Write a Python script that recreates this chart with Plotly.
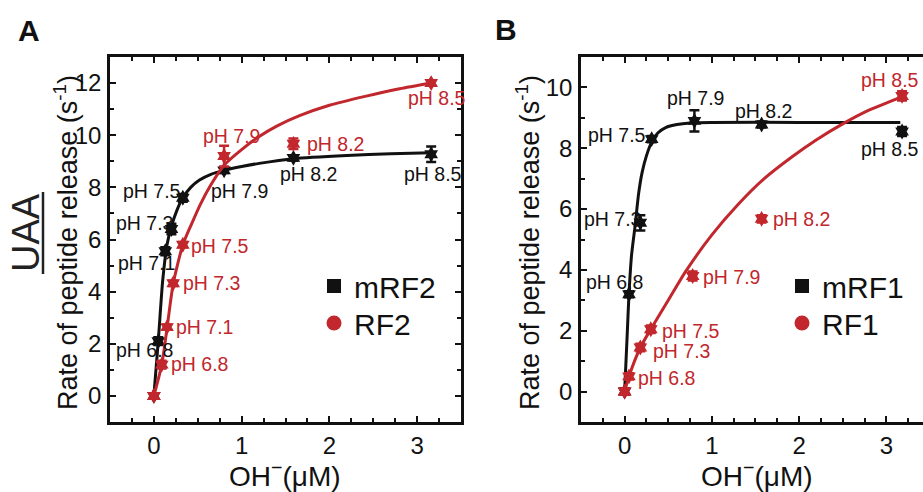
import plotly.graph_objects as go

BLACK = "#111111"
RED = "#c1272d"
FONT = "Liberation Sans, Arial, Helvetica, sans-serif"

# ---------------- Panel A data ----------------
a_mrf2_x = [0, 0.05, 0.13, 0.20, 0.33, 0.80, 1.59, 3.16]
a_mrf2_y = [0, 2.1, 5.55, 6.4, 7.6, 8.65, 9.13, 9.27]
a_mrf2_err = [0.1, 0.15, 0.15, 0.2, 0.15, 0.1, 0.1, 0.3]
a_mrf2_fit_x = [0, 0.05, 0.1, 0.15, 0.2, 0.26, 0.33, 0.42, 0.52, 0.65, 0.8, 1.0, 1.2, 1.6, 2.2, 2.7, 3.16]
a_mrf2_fit_y = [0, 2.1, 4.4, 5.8, 6.5, 7.1, 7.6, 8.0, 8.28, 8.5, 8.65, 8.8, 8.92, 9.1, 9.22, 9.29, 9.33]
a_mrf2_labels = ["pH 6.8", "pH 7.1", "pH 7.3", "pH 7.5", "pH 7.9", "pH 8.2", "pH 8.5"]

a_rf2_x = [0, 0.09, 0.15, 0.22, 0.33, 0.80, 1.59, 3.16]
a_rf2_y = [0, 1.2, 2.64, 4.32, 5.8, 9.2, 9.67, 12.0]
a_rf2_err = [0.1, 0.15, 0.1, 0.1, 0.1, 0.4, 0.2, 0.1]
a_rf2_fit_x = [0, 0.09, 0.15, 0.22, 0.33, 0.43, 0.53, 0.65, 0.8, 1.0, 1.2, 1.4, 1.66, 2.0, 2.42, 2.8, 3.16]
a_rf2_fit_y = [0, 1.2, 2.6, 4.3, 5.8, 6.6, 7.35, 8.1, 8.85, 9.45, 9.95, 10.35, 10.75, 11.15, 11.5, 11.78, 12.0]
a_rf2_labels = ["pH 6.8", "pH 7.1", "pH 7.3", "pH 7.5", "pH 7.9", "pH 8.2", "pH 8.5"]

# ---------------- Panel B data ----------------
b_mrf1_x = [0, 0.05, 0.18, 0.31, 0.80, 1.57, 3.18]
b_mrf1_y = [0, 3.2, 5.55, 8.3, 8.9, 8.78, 8.55]
b_mrf1_err = [0.1, 0.1, 0.25, 0.1, 0.35, 0.1, 0.15]
b_mrf1_fit_x = [0, 0.03, 0.05, 0.08, 0.12, 0.16, 0.2, 0.25, 0.31, 0.38, 0.47, 0.6, 0.75, 1.0, 2.0, 3.16]
b_mrf1_fit_y = [0, 1.9, 3.2, 4.5, 5.45, 6.5, 7.2, 7.75, 8.2, 8.5, 8.68, 8.78, 8.83, 8.85, 8.85, 8.85]
b_mrf1_labels = ["pH 6.8", "pH 7.3", "pH 7.5", "pH 7.9", "pH 8.2", "pH 8.5"]

b_rf1_x = [0, 0.05, 0.18, 0.30, 0.78, 1.57, 3.18]
b_rf1_y = [0, 0.5, 1.45, 2.05, 3.8, 5.68, 9.72]
b_rf1_err = [0.1, 0.1, 0.12, 0.12, 0.15, 0.12, 0.15]
b_rf1_fit_x = [0, 0.05, 0.18, 0.3, 0.5, 0.7, 1.0, 1.3, 1.6, 1.92, 2.2, 2.5, 2.8, 3.17]
b_rf1_fit_y = [0, 0.5, 1.45, 2.05, 3.0, 3.95, 5.15, 6.15, 7.0, 7.72, 8.28, 8.8, 9.25, 9.68]
b_rf1_labels = ["pH 6.8", "pH 7.3", "pH 7.5", "pH 7.9", "pH 8.2", "pH 8.5"]

# label anchor positions (left edge, vertical middle) in data coordinates
a_mrf2_lab_pos = [(-0.453, 1.76), (-0.43, 5.08), (-0.453, 6.65), (-0.374, 7.87),
                  (0.623, 7.87), (1.416, 8.52), (2.83, 8.52)]
a_rf2_lab_pos = [(0.17, 1.22), (0.226, 2.64), (0.306, 4.32), (0.396, 5.77),
                 (0.532, 9.97), (1.72, 9.67), (2.877, 11.43)]
b_mrf1_lab_pos = [(-0.46, 3.6), (-0.494, 5.68), (-0.448, 8.42), (0.46, 9.64),
                  (1.241, 9.24), (2.69, 7.99)]
b_rf1_lab_pos = [(0.126, 0.46), (0.3, 1.32), (0.41, 1.98), (0.874, 3.78),
                 (1.678, 5.68), (2.69, 10.23)]

W, H = 923, 492


def px(x):
    return x / W


def py(y):
    return (H - y) / H


fig = go.Figure()


def add_series(xs, ys, errs, fx, fy, color, xa, ya):
    fig.add_trace(go.Scatter(x=fx, y=fy, mode="lines", line=dict(color=color, width=3, shape="spline", smoothing=0.6),
                             xaxis=xa, yaxis=ya, showlegend=False, hoverinfo="skip"))
    fig.add_trace(go.Scatter(x=xs, y=ys, mode="markers",
                             marker=dict(symbol="hexagram", size=12, color=color),
                             error_y=dict(type="data", array=errs, color=color, thickness=2.5, width=5),
                             xaxis=xa, yaxis=ya, showlegend=False))


add_series(a_mrf2_x, a_mrf2_y, a_mrf2_err, a_mrf2_fit_x, a_mrf2_fit_y, BLACK, "x", "y")
add_series(a_rf2_x, a_rf2_y, a_rf2_err, a_rf2_fit_x, a_rf2_fit_y, RED, "x", "y")
add_series(b_mrf1_x, b_mrf1_y, b_mrf1_err, b_mrf1_fit_x, b_mrf1_fit_y, BLACK, "x2", "y2")
add_series(b_rf1_x, b_rf1_y, b_rf1_err, b_rf1_fit_x, b_rf1_fit_y, RED, "x2", "y2")

# legend entries (one legend per entry for precise placement)
legend_entries = [("mRF2", "square", 14, BLACK, "legend", "x", "y"),
                  ("RF2", "circle", 15, RED, "legend2", "x", "y"),
                  ("mRF1", "square", 14, BLACK, "legend3", "x2", "y2"),
                  ("RF1", "circle", 15, RED, "legend4", "x2", "y2")]
for name, sym, size, color, lg, xa, ya in legend_entries:
    fig.add_trace(go.Scatter(x=[None], y=[None], mode="markers", name=name, xaxis=xa, yaxis=ya,
                             marker=dict(symbol=sym, size=size, color=color), legend=lg))

annotations = []


def add_labels(labels, pos, color, xr, yr):
    for t, (lx, ly) in zip(labels, pos):
        annotations.append(dict(text=t, x=lx, y=ly, xref=xr, yref=yr, xanchor="left", yanchor="middle",
                                showarrow=False, font=dict(size=19.5, color=color, family=FONT)))


add_labels(a_mrf2_labels, a_mrf2_lab_pos, BLACK, "x", "y")
add_labels(a_rf2_labels, a_rf2_lab_pos, RED, "x", "y")
add_labels(b_mrf1_labels, b_mrf1_lab_pos, BLACK, "x2", "y2")
add_labels(b_rf1_labels, b_rf1_lab_pos, RED, "x2", "y2")

ytitle = "Rate of peptide release (s<sup>-1</sup>)"
xtitle = "OH<sup>\u2212</sup>(\u03bcM)"
for cx in (66, 528):
    annotations.append(dict(text=ytitle, x=px(cx), y=py(243), xref="paper", yref="paper", textangle=-90,
                            showarrow=False, xanchor="center", yanchor="middle",
                            font=dict(size=27, color=BLACK, family=FONT)))
for cx in (285, 757):
    annotations.append(dict(text=xtitle, x=px(cx), y=py(474), xref="paper", yref="paper",
                            showarrow=False, xanchor="center", yanchor="middle",
                            font=dict(size=28, color=BLACK, family=FONT)))
annotations.append(dict(text="<b>A</b>", x=px(29), y=py(30), xref="paper", yref="paper", showarrow=False,
                        xanchor="center", yanchor="middle", font=dict(size=30, color=BLACK, family=FONT)))
annotations.append(dict(text="<b>B</b>", x=px(506), y=py(29), xref="paper", yref="paper", showarrow=False,
                        xanchor="center", yanchor="middle", font=dict(size=30, color=BLACK, family=FONT)))
annotations.append(dict(text="UAA", x=px(26), y=py(233), xref="paper", yref="paper", showarrow=False,
                        textangle=-90, xanchor="center", yanchor="middle",
                        font=dict(size=38, color="#222222", family=FONT)))

shapes = [dict(type="line", xref="paper", yref="paper", x0=px(43), x1=px(43), y0=py(192), y1=py(274),
               line=dict(color="#222222", width=2.5))]

axis_common = dict(showline=True, linecolor=BLACK, linewidth=2.5, ticks="inside", tickcolor=BLACK,
                   tickwidth=2, ticklen=6, showgrid=False, zeroline=False,
                   tickfont=dict(size=24, color=BLACK, family=FONT))

ydom = [py(422), py(57)]


def legend_at(x_left, y_mid):
    return dict(x=px(x_left), y=py(y_mid), xanchor="left", yanchor="middle", bgcolor="rgba(0,0,0,0)",
                font=dict(size=30, color=BLACK, family=FONT), itemwidth=30, tracegroupgap=0)


fig.update_layout(
    width=W, height=H, margin=dict(l=0, r=0, t=0, b=0),
    paper_bgcolor="white", plot_bgcolor="white",
    xaxis=dict(domain=[px(110), px(461)], range=[-0.5, 3.5], tick0=0, dtick=1, mirror="allticks",
               minor=dict(dtick=0.25, ticks="inside", ticklen=4, tickwidth=2, tickcolor=BLACK),
               anchor="y", **axis_common),
    yaxis=dict(domain=ydom, range=[-1, 13], tick0=0, dtick=2, mirror="allticks",
               minor=dict(dtick=1, ticks="inside", ticklen=4, tickwidth=2, tickcolor=BLACK),
               anchor="x", ticklabelstandoff=1, **axis_common),
    xaxis2=dict(domain=[px(581), 1.0], range=[-0.5, 3.42], tick0=0, dtick=1, mirror="allticks",
                minor=dict(dtick=0.25, ticks="inside", ticklen=4, tickwidth=2, tickcolor=BLACK),
                anchor="y2", **axis_common),
    yaxis2=dict(domain=ydom, range=[-1, 11], tick0=0, dtick=2, mirror=False,
                minor=dict(dtick=1, ticks="inside", ticklen=4, tickwidth=2, tickcolor=BLACK),
                anchor="x2", ticklabelstandoff=1, **axis_common),
    legend=legend_at(314, 286),
    legend2=legend_at(314, 323),
    legend3=legend_at(782, 286),
    legend4=legend_at(782, 323),
    annotations=annotations, shapes=shapes,
    font=dict(family=FONT),
)

fig.write_html("out.html")
